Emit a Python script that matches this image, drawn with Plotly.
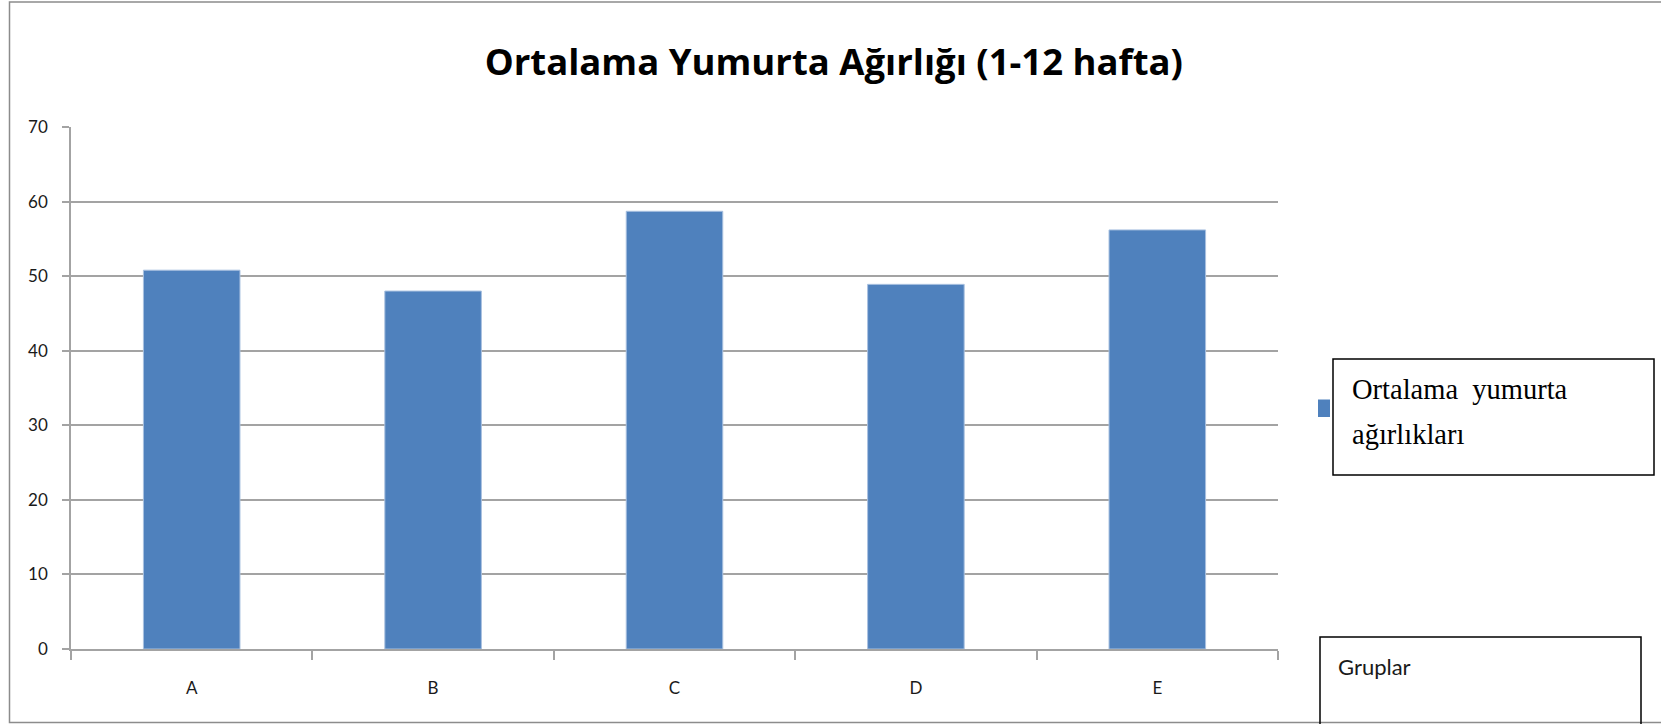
import plotly.graph_objects as go

# ---- data ----
title_text = "Ortalama Yumurta Ağırlığı (1-12 hafta)"
categories = ["A", "B", "C", "D", "E"]
series_name_line1 = "Ortalama  yumurta"
series_name_line2 = "ağırlıkları"
values = [50.8, 48.0, 58.7, 48.9, 56.2]
y_ticks = [0, 10, 20, 30, 40, 50, 60, 70]
axis_box_label = "Gruplar"

W, H = 1661, 724
X0, X1 = 71, 1278      # plot area left/right (px)
YT, YB = 127, 649      # plot area top/bottom (px)

def px_x(px):
    return (px - X0) / (X1 - X0)

def px_y(py):
    return (YB - py) / (YB - YT)

BAR = "#4f81bd"
GRID = "#a3a3a3"

fig = go.Figure()
fig.add_trace(go.Bar(
    x=categories, y=values, name=series_name_line1 + " " + series_name_line2,
    marker=dict(color=BAR, line=dict(color="#a9c1e0", width=1)),
    showlegend=False,
))

tick_font = dict(family="Lato, Open Sans, sans-serif", size=17, color="#1a1a1a")

fig.update_layout(
    width=W, height=H,
    margin=dict(l=X0, r=W - X1, t=YT, b=H - YB, pad=0),
    paper_bgcolor="white", plot_bgcolor="white",
    bargap=0.6,
    title=dict(text=title_text, x=0.502, xanchor="center", xref="container",
               y=1 - 62 / H, yanchor="middle", yref="container",
               font=dict(family="Open Sans, sans-serif",
                         size=36.5, color="#000000", weight="bold")),
    xaxis=dict(
        showline=True, linecolor=GRID, linewidth=1.5,
        ticks="outside", tickson="boundaries", ticklen=9, tickcolor=GRID, tickwidth=1.5,
        tickfont=tick_font, ticklabelstandoff=23,
        showgrid=False, zeroline=False,
    ),
    yaxis=dict(
        range=[0, 70], tickvals=y_ticks,
        showline=True, linecolor=GRID, linewidth=1.5,
        ticks="outside", ticklen=7, tickcolor=GRID, tickwidth=1.5,
        tickfont=tick_font, ticklabelstandoff=11,
        showgrid=True, gridcolor=GRID, gridwidth=1.5, zeroline=False,
    ),
)

shapes = []
# outer chart border
shapes.append(dict(type="rect", xref="paper", yref="paper",
                   x0=px_x(9.5), x1=px_x(1680), y0=px_y(2), y1=px_y(722.5),
                   line=dict(color="#8c8c8c", width=1.5), fillcolor="rgba(0,0,0,0)", layer="below"))
# legend marker
shapes.append(dict(type="rect", xref="paper", yref="paper",
                   x0=px_x(1318), x1=px_x(1330), y0=px_y(417), y1=px_y(399.5),
                   line=dict(width=0), fillcolor=BAR))
# legend box
shapes.append(dict(type="rect", xref="paper", yref="paper",
                   x0=px_x(1333), x1=px_x(1654), y0=px_y(475), y1=px_y(359),
                   line=dict(color="#000000", width=1.5), fillcolor="rgba(0,0,0,0)"))
# axis title box
shapes.append(dict(type="rect", xref="paper", yref="paper",
                   x0=px_x(1320), x1=px_x(1641), y0=px_y(740), y1=px_y(637),
                   line=dict(color="#000000", width=1.5), fillcolor="rgba(0,0,0,0)"))
fig.update_layout(shapes=shapes)

serif = dict(family="Liberation Serif, Times New Roman, serif", size=28.5, color="#000000")
fig.add_annotation(text=series_name_line1, xref="paper", yref="paper",
                   x=px_x(1350), y=px_y(407), xanchor="left", yanchor="bottom",
                   showarrow=False, font=serif)
fig.add_annotation(text=series_name_line2, xref="paper", yref="paper",
                   x=px_x(1350), y=px_y(452), xanchor="left", yanchor="bottom",
                   showarrow=False, font=serif)
fig.add_annotation(text=axis_box_label, xref="paper", yref="paper",
                   x=px_x(1336), y=px_y(666), xanchor="left", yanchor="middle",
                   showarrow=False,
                   font=dict(family="Lato, Open Sans, sans-serif", size=22, color="#1a1a1a"))

fig.write_html("out.html", config={"displayModeBar": False},
               post_script="document.body.style.margin='0px';document.body.style.overflow='hidden';")
